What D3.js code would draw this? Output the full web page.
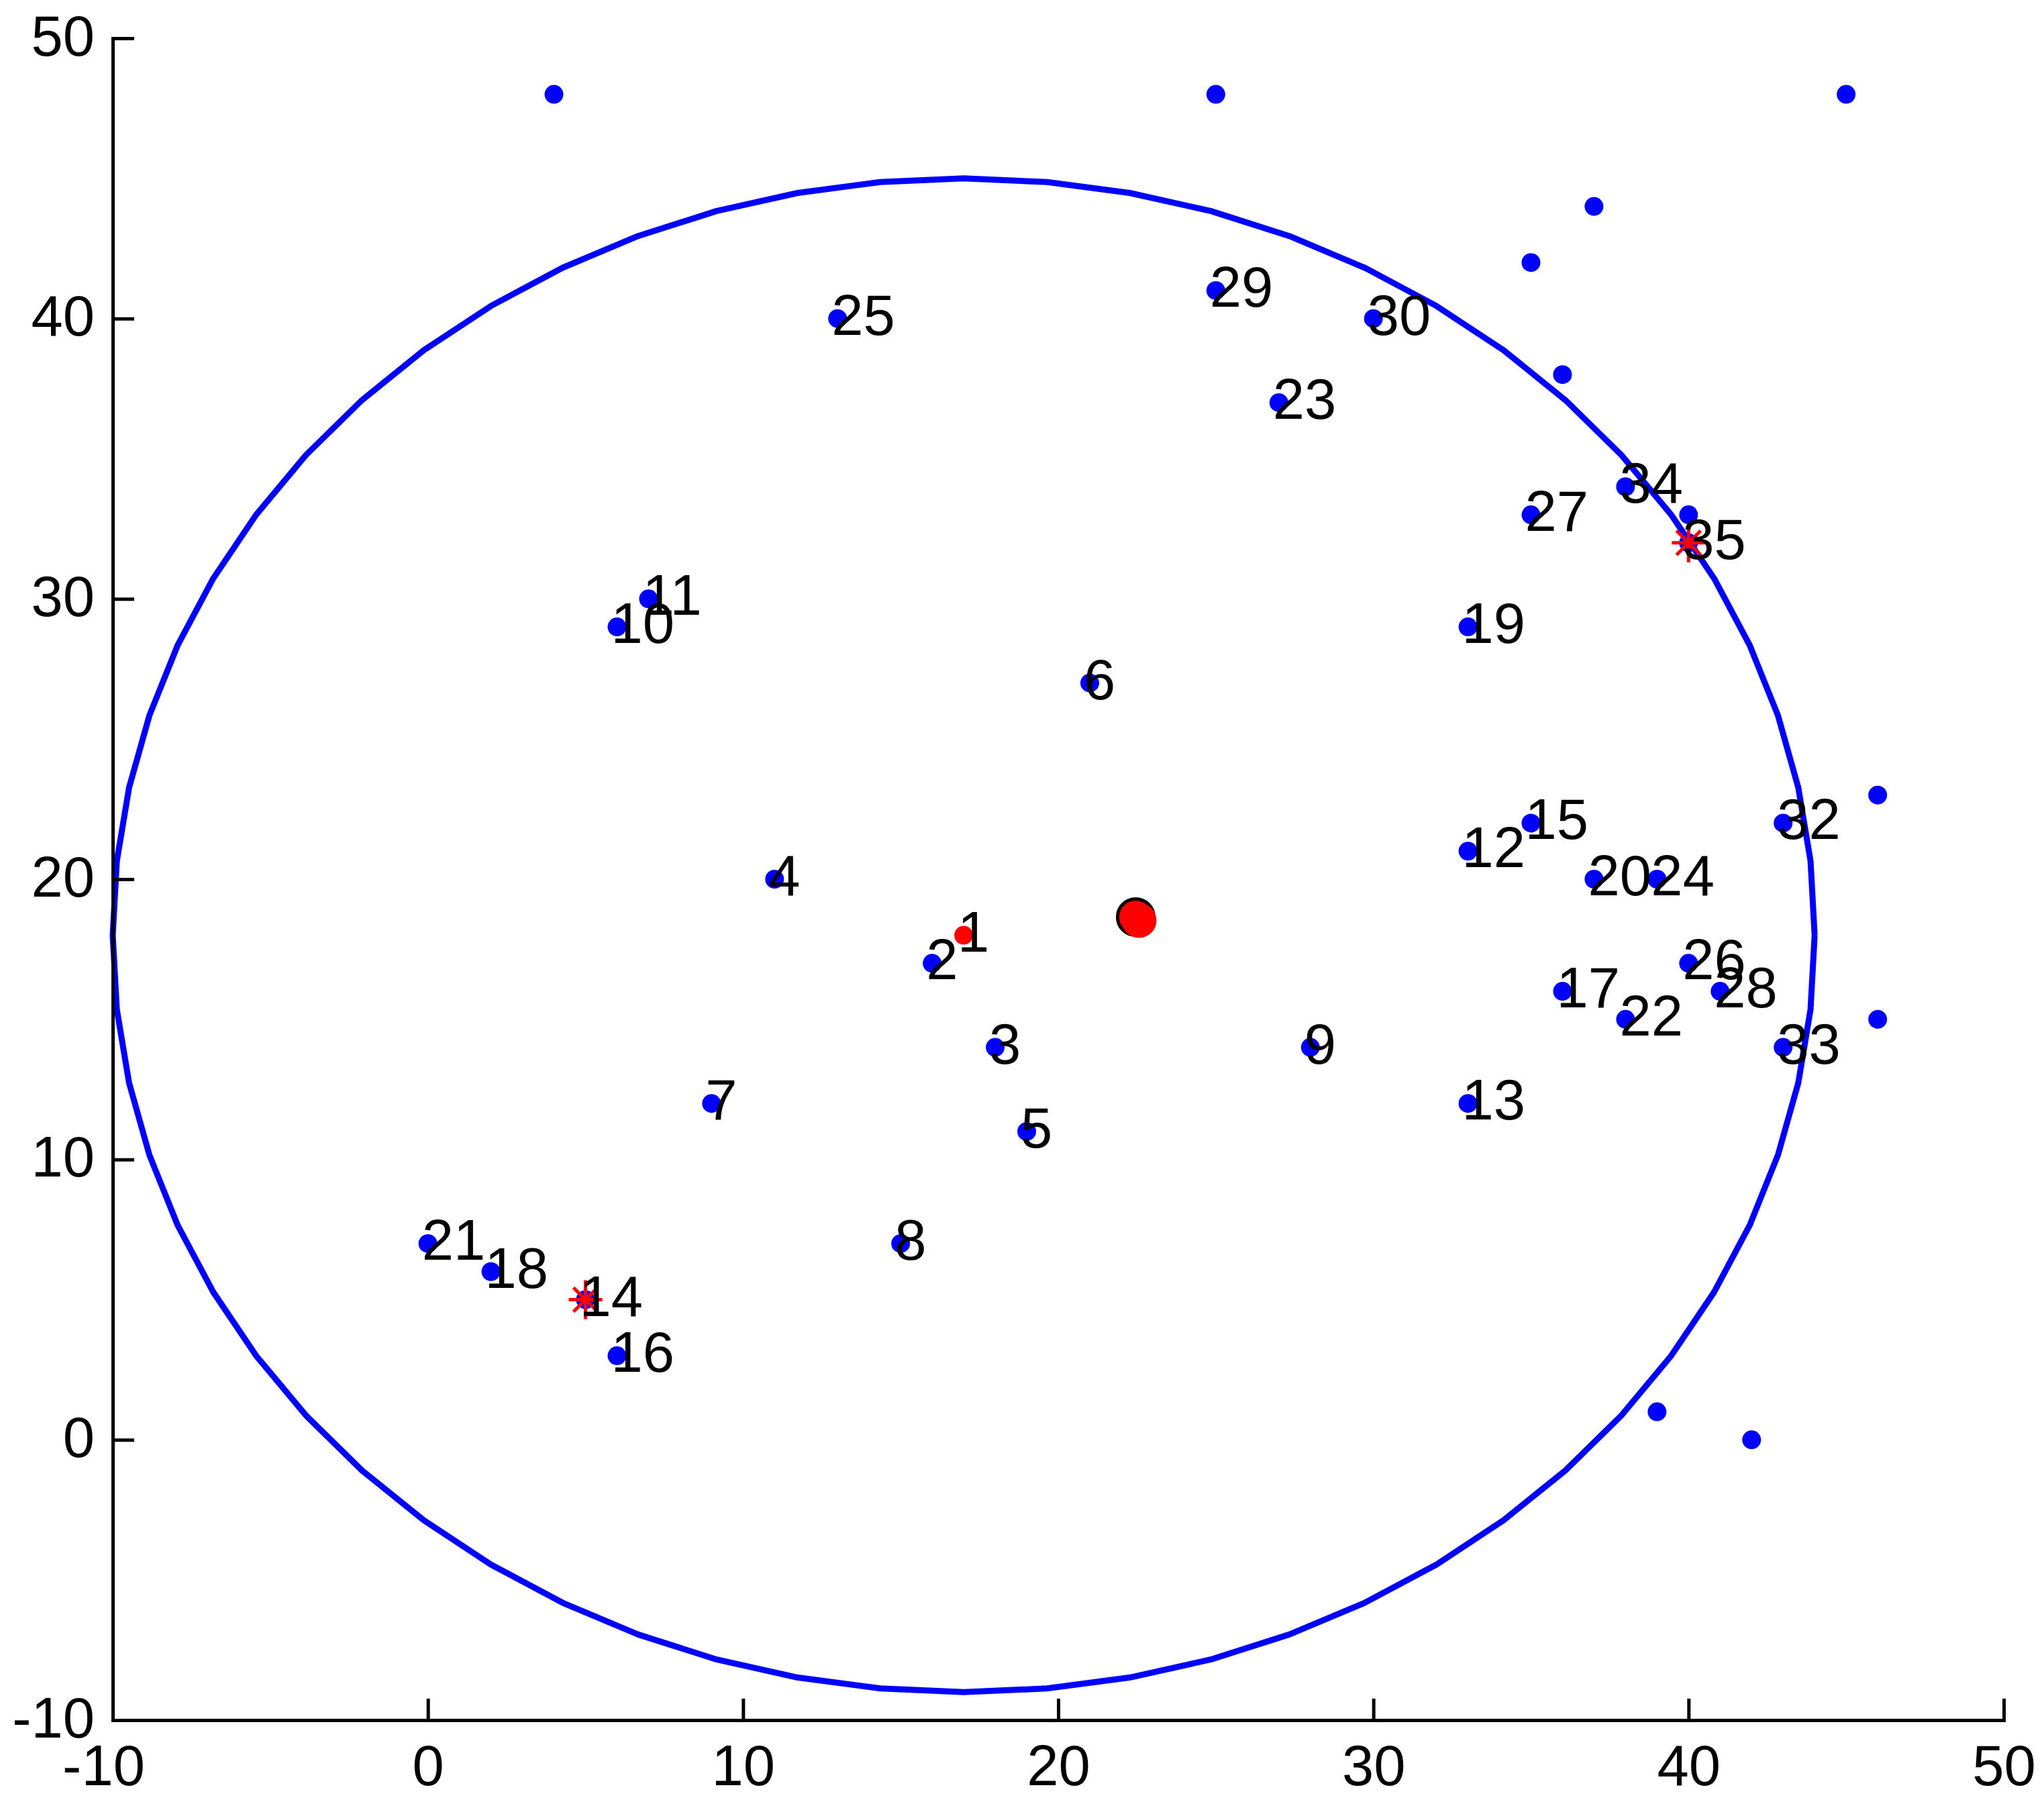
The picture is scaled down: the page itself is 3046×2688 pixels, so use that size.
<!DOCTYPE html>
<html>
<head>
<meta charset="utf-8">
<script src="https://cdn.jsdelivr.net/npm/d3@7"></script>
<style>
  html, body { margin: 0; padding: 0; background: #fff; }
  svg { display: block; }
  text { font-family: "Liberation Sans", Arial, sans-serif; }
</style>
</head>
<body>
<script>
// ---- data ----
const nodeIds = [1, 2, 3, 4, 5, 6, 7, 8, 9, 10, 11, 12, 13, 14, 15, 16, 17, 18, 19, 20, 21, 22, 23, 24, 25, 26, 27, 28, 29, 30, 32, 33, 34, 35];
const nodeX   = [17, 16, 18, 11, 19, 21, 9, 15, 28, 6, 7, 33, 33, 5, 35, 6, 36, 2, 33, 37, 0, 38, 27, 39, 13, 40, 35, 41, 25, 30, 43, 43, 38, 40];
const nodeY   = [18, 17, 14, 20, 11, 27, 12, 7, 14, 29, 30, 21, 12, 5, 22, 3, 16, 6, 29, 20, 7, 15, 37, 20, 40, 17, 33, 16, 41, 40, 22, 14, 34, 32];
const outsideX = [4, 25, 45, 37, 35, 36, 40, 46, 46, 39, 42];
const outsideY = [48, 48, 48, 44, 42, 38, 33, 23, 15, 1, 0];
const redDotIds = [1];
const starIds = [14, 35];
const centroid = [22.5, 18.6];
const rangeCenter = [17, 18];
const rangeRadius = 27;
const xTicks = [-10, 0, 10, 20, 30, 40, 50];
const yTicks = [-10, 0, 10, 20, 30, 40, 50];
const xTickLabels = ["-10", "0", "10", "20", "30", "40", "50"];
const yTickLabels = ["-10", "0", "10", "20", "30", "40", "50"];

// ---- layout ----
const W = 3046, H = 2688;
const FS = 85;
const x = d3.scaleLinear().domain([-10, 50]).range([168, 2986]);
const y = d3.scaleLinear().domain([-10, 50]).range([2563, 57]);

const svg = d3.select("body").append("svg").attr("width", W).attr("height", H);

// range circle
const N = 64;
const circPts = d3.range(N + 1).map(i => {
  const a = 2 * Math.PI * i / N;
  return [rangeCenter[0] + rangeRadius * Math.cos(a), rangeCenter[1] + rangeRadius * Math.sin(a)];
});
svg.append("path")
  .attr("d", d3.line().x(d => x(d[0])).y(d => y(d[1]))(circPts))
  .attr("fill", "none").attr("stroke", "#0000ff").attr("stroke-width", 9)
  .attr("stroke-linejoin", "round");

// axes (left + bottom, inward ticks)
const xAxis = d3.axisBottom(x).tickValues(xTicks).tickSizeInner(-32).tickSizeOuter(0)
  .tickFormat((d, i) => xTickLabels[i]);
const yAxis = d3.axisLeft(y).tickValues(yTicks).tickSizeInner(-32).tickSizeOuter(0)
  .tickFormat((d, i) => yTickLabels[i]);

const gx = svg.append("g").attr("transform", `translate(0,${y(-10)})`).call(xAxis);
const gy = svg.append("g").attr("transform", `translate(${x(-10)},0)`).call(yAxis);

[gx, gy].forEach(g => {
  g.select(".domain").attr("stroke", "#000").attr("stroke-width", 5).attr("stroke-linecap", "square");
  g.selectAll(".tick line").attr("stroke", "#000").attr("stroke-width", 5);
  g.selectAll(".tick text").attr("fill", "#000").attr("font-size", FS)
    .attr("font-family", '"Liberation Sans", Arial, sans-serif');
});
gx.selectAll(".tick text")
  .attr("y", 97).attr("dy", 0)
  .attr("dx", d => d < 0 ? -14 : 0);
gy.selectAll(".tick text")
  .attr("x", 141 - x(-10)).attr("dy", 0).attr("y", 25)
  .attr("text-anchor", "end");

// nodes
const nodes = nodeIds.map((id, i) => ({ id, x: nodeX[i], y: nodeY[i] }));
const outside = outsideX.map((v, i) => ({ x: v, y: outsideY[i] }));

svg.append("g").selectAll("circle.out").data(outside).join("circle")
  .attr("cx", d => x(d.x)).attr("cy", d => y(d.y)).attr("r", 14).attr("fill", "#0000ff");

svg.append("g").selectAll("circle.node").data(nodes).join("circle")
  .attr("cx", d => x(d.x)).attr("cy", d => y(d.y)).attr("r", 14)
  .attr("fill", d => redDotIds.includes(d.id) ? "#ff0000" : "#0000ff");

// stars
const starNodes = nodes.filter(d => starIds.includes(d.id));
const sg = svg.append("g").selectAll("g").data(starNodes).join("g")
  .attr("transform", d => `translate(${x(d.x)},${y(d.y)})`);
const rays = [[0, -29, 0, 29], [-25, 0, 25, 0], [-18, -18, 18, 18], [-18, 18, 18, -18]];
rays.forEach(r => {
  sg.append("line").attr("x1", r[0]).attr("y1", r[1]).attr("x2", r[2]).attr("y2", r[3])
    .attr("stroke", "#ff0000").attr("stroke-width", 5);
});

// labels
svg.append("g").selectAll("text").data(nodes).join("text")
  .attr("x", d => x(d.x) - 9).attr("y", d => y(d.y) + 24)
  .attr("font-size", FS).attr("fill", "#000")
  .text(d => d.id);

// centroid
const cx = x(centroid[0]), cy = y(centroid[1]);
svg.append("circle").attr("cx", cx - 2).attr("cy", cy - 2).attr("r", 27)
  .attr("fill", "#ff0000").attr("stroke", "#000").attr("stroke-width", 5);
svg.append("circle").attr("cx", cx + 3).attr("cy", cy + 3).attr("r", 26)
  .attr("fill", "#ff0000");
</script>
</body>
</html>
